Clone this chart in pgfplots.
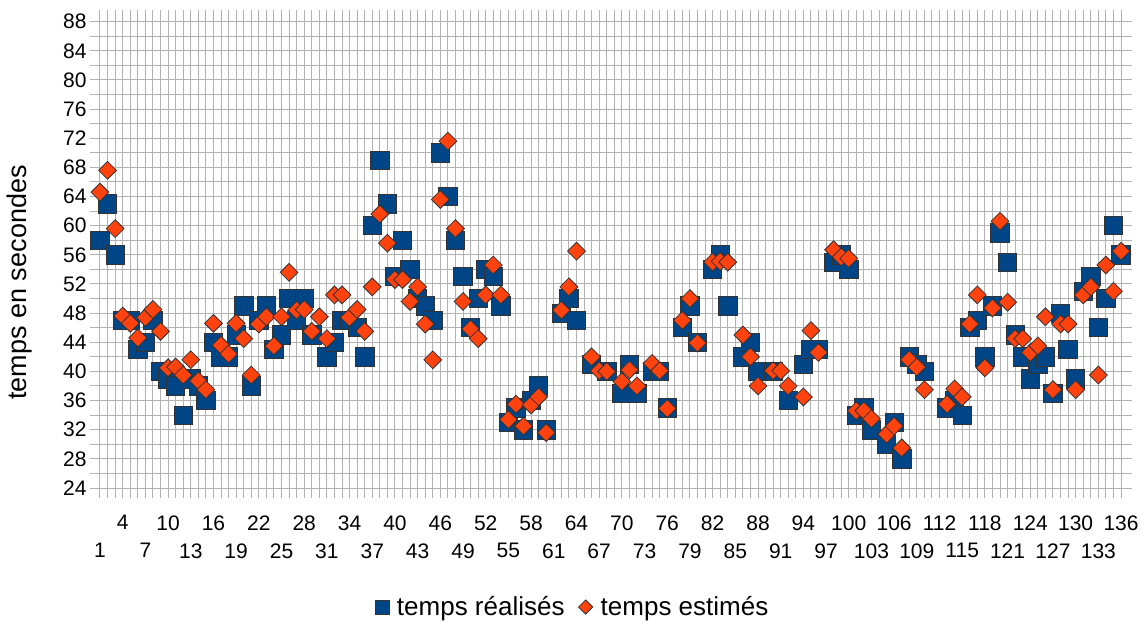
\documentclass[border=0pt]{standalone}
\usepackage{pgfplots}
\pgfplotsset{compat=1.18}
\usepackage{fontspec}
\setmainfont{Liberation Sans}
\definecolor{serA}{HTML}{004586}
\definecolor{serB}{HTML}{FF420E}
\definecolor{gridc}{HTML}{B3B3B3}
\begin{document}
\begin{tikzpicture}
\useasboundingbox (0,0) rectangle (1143pt,625pt);
\begin{axis}[
 at={(100pt,137pt)}, anchor=south west,
 scale only axis, width=1032pt, height=478pt,
 xmin=1, xmax=137.45, ymin=24, ymax=89.6,
 axis x line*=bottom, axis y line*=left,
 axis line style={gridc, line width=1pt, -},
 xtick={4,10,...,136},
 xticklabel style={yshift=-14pt},
 extra x ticks={1,7,...,133},
 extra x tick style={grid=major, tick label style={yshift=-28pt}},
 minor xtick={1,...,136},
 ytick={24,28,...,88}, minor ytick={26,30,...,86},
 grid=both,
 major grid style={gridc, line width=1pt},
 minor grid style={gridc, line width=1pt},
 tick style={gridc, line width=1pt},
 tick align=outside,
 major tick length=10pt, minor tick length=10pt,
 ticklabel style={font=\fontsize{21}{25}\selectfont, text=black},
 /pgf/number format/assume math mode=true,
 ylabel={temps en secondes},
 every axis y label/.style={at={(axis description cs:-0.078,0.43)}, rotate=90, anchor=center, font=\fontsize{27}{32}\selectfont},
 legend style={at={(0.458,-0.249)}, anchor=center, legend columns=2, draw=none, fill=none, font=\fontsize{26}{30}\selectfont, /tikz/every even column/.append style={column sep=12pt}, /tikz/every odd column/.append style={column sep=6pt}},
 clip=false,
]
\addplot[only marks, mark=square*, mark size=9.2pt, mark options={fill=serA, draw=black!80, line width=0.8pt}, legend image post style={mark size=7pt}]
coordinates {(1,58)(2,63)(3,56)(4,47)(5,47)(6,43)(7,44)(8,47)(9,40)(10,39)(11,38)(12,34)(13,39)(14,38)(15,36)(16,44)(17,42)(18,42)(19,45)(20,49)(21,38)(22,47)(23,49)(24,43)(25,45)(26,50)(27,47)(28,50)(29,45)(31,42)(32,44)(33,47)(34,47)(35,46)(36,42)(37,60)(38,69)(39,63)(40,53)(41,58)(42,54)(43,50)(44,49)(45,47)(46,70)(47,64)(48,58)(49,53)(50,46)(51,50)(52,54)(53,53)(54,49)(55,33)(56,35)(57,32)(58,36)(59,38)(60,32)(62,48)(63,50)(64,47)(66,41)(68,40)(70,37)(71,41)(72,37)(74,40)(75,40)(76,35)(78,46)(79,49)(80,44)(82,54)(83,56)(84,49)(86,42)(87,44)(88,40)(90,40)(92,36)(94,41)(95,43)(96,43)(98,55)(99,56)(100,54)(101,34)(102,35)(103,32)(105,30)(106,33)(107,28)(108,42)(109,41)(110,40)(113,35)(114,36)(115,34)(116,46)(117,47)(118,42)(119,49)(120,59)(121,55)(122,45)(123,42)(124,39)(125,41)(126,42)(127,37)(128,48)(129,43)(130,39)(131,51)(132,53)(133,46)(134,50)(135,60)(136,56)};
\addlegendentry{temps réalisés}
\addplot[only marks, mark=square*, mark size=6.3pt, mark options={rotate=45, fill=serB, draw=black!80, line width=0.8pt}, legend image post style={mark size=5pt}]
coordinates {(1,64.6)(2,67.6)(3,59.6)(4,47.6)(5,46.6)(6,44.6)(7,47.4)(8,48.5)(9,45.5)(10,40.5)(11,40.6)(12,39.5)(13,41.6)(14,38.7)(15,37.5)(16,46.6)(17,43.6)(18,42.4)(19,46.6)(20,44.5)(21,39.5)(22,46.5)(23,47.5)(24,43.5)(25,47.5)(26,53.6)(27,48.4)(28,48.5)(29,45.5)(30,47.5)(31,44.5)(32,50.5)(33,50.5)(34,47.4)(35,48.5)(36,45.5)(37,51.6)(38,61.6)(39,57.6)(40,52.6)(41,52.6)(42,49.6)(43,51.6)(44,46.5)(45,41.6)(46,63.6)(47,71.6)(48,59.6)(49,49.6)(50,45.8)(51,44.5)(52,50.5)(53,54.6)(54,50.5)(55,33.4)(56,35.5)(57,32.5)(58,35.4)(59,36.5)(60,31.6)(62,48.4)(63,51.6)(64,56.5)(66,42)(67,40.1)(68,40)(70,38.6)(71,40.2)(72,38)(74,41.1)(75,40.1)(76,34.9)(78,47)(79,50)(80,43.9)(82,55)(83,55.1)(84,55)(86,45)(87,42)(88,38)(90,40.1)(91,40.1)(92,38)(94,36.5)(95,45.6)(96,42.6)(98,56.7)(99,55.7)(100,55.5)(101,34.6)(102,34.6)(103,33.5)(105,31.4)(106,32.5)(107,29.5)(108,41.6)(109,40.6)(110,37.5)(113,35.5)(114,37.6)(115,36.5)(116,46.5)(117,50.5)(118,40.5)(119,48.7)(120,60.6)(121,49.5)(122,44.5)(123,44.5)(124,42.6)(125,43.5)(126,47.5)(127,37.5)(128,46.5)(129,46.5)(130,37.5)(131,50.5)(132,51.6)(133,39.5)(134,54.6)(135,51)(136,56.5)};
\addlegendentry{temps estimés}
\end{axis}
\end{tikzpicture}
\end{document}
